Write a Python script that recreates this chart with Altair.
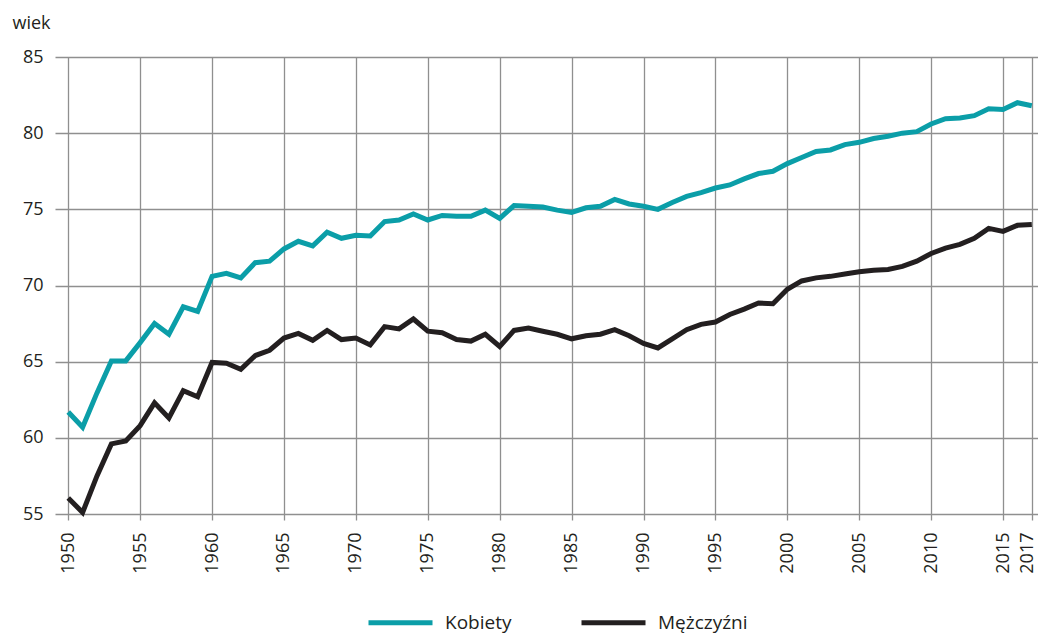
import altair as alt
import pandas as pd

years = list(range(1950, 2018))
kobiety = [
    61.7, 60.7, 62.95, 65.05, 65.05, 66.25, 67.5, 66.8, 68.6, 68.3,
    70.6, 70.8, 70.5, 71.5, 71.6, 72.4, 72.9, 72.6, 73.5, 73.1,
    73.3, 73.25, 74.2, 74.3, 74.7, 74.3, 74.6, 74.55, 74.55, 74.95,
    74.4, 75.25, 75.2, 75.15, 74.95, 74.8, 75.1, 75.2, 75.65, 75.35,
    75.2, 75.0, 75.45, 75.85, 76.1, 76.4, 76.6, 77.0, 77.35, 77.5,
    78.0, 78.4, 78.8, 78.9, 79.25, 79.4, 79.65, 79.8, 80.0, 80.1,
    80.6, 80.95, 81.0, 81.15, 81.6, 81.55, 82.0, 81.8,
]
mezczyzni = [
    56.05, 55.1, 57.5, 59.6, 59.8, 60.8, 62.3, 61.3, 63.1, 62.7,
    64.95, 64.9, 64.5, 65.4, 65.75, 66.55, 66.85, 66.4, 67.05, 66.45,
    66.55, 66.1, 67.3, 67.15, 67.8, 67.0, 66.9, 66.45, 66.35, 66.8,
    66.0, 67.05, 67.2, 67.0, 66.8, 66.5, 66.7, 66.8, 67.1, 66.7,
    66.2, 65.9, 66.5, 67.1, 67.45, 67.6, 68.1, 68.45, 68.85, 68.8,
    69.75, 70.3, 70.5, 70.6, 70.75, 70.9, 71.0, 71.05, 71.25, 71.6,
    72.1, 72.45, 72.7, 73.1, 73.75, 73.55, 73.95, 74.0,
]
series = ["Kobiety", "Mężczyźni"]
colors = ["#0B9EA8", "#231F20"]
x_ticks = [1950, 1955, 1960, 1965, 1970, 1975, 1980, 1985, 1990, 1995,
           2000, 2005, 2010, 2015, 2017]
y_ticks = [55, 60, 65, 70, 75, 80, 85]

df = pd.concat([
    pd.DataFrame({"rok": years, "wiek": kobiety, "plec": series[0], "o": 0}),
    pd.DataFrame({"rok": years, "wiek": mezczyzni, "plec": series[1], "o": 1}),
])

FONT = "Open Sans"
TXT = "#231F20"
GRID = "#8f8f8f"

chart = alt.Chart(df).mark_line(strokeWidth=5).encode(
    x=alt.X("rok:Q",
            scale=alt.Scale(domain=[1949.08, 2017.43], nice=False, zero=False),
            axis=alt.Axis(values=x_ticks, format="d", title=None,
                          labelAngle=270, labelAlign="right", labelBaseline="middle",
                          labelFont=FONT, labelFontSize=18, labelColor=TXT,
                          labelPadding=12, tickSize=6, tickColor=GRID, tickWidth=1.3,
                          labelOffset={"condition": {"test": "datum.value == 2017", "value": -4},
                                       "value": 0},
                          domain=False, grid=True, gridColor=GRID, gridWidth=1.3,
                          gridOpacity=1, labelOverlap=False)),
    y=alt.Y("wiek:Q",
            scale=alt.Scale(domain=[55, 85], nice=False, zero=False),
            axis=alt.Axis(values=y_ticks, title="wiek", titleAngle=0,
                          titleX=-43, titleY=-29, titleAlign="left",
                          titleBaseline="alphabetic", titleFont=FONT,
                          titleFontSize=18, titleFontWeight="normal", titleColor=TXT,
                          labelFont=FONT, labelFontSize=18, labelColor=TXT,
                          labelPadding=12, ticks=False, domain=False,
                          grid=True, gridColor=GRID, gridWidth=1.3, gridOpacity=1)),
    color=alt.Color("plec:N",
                    scale=alt.Scale(domain=series, range=colors),
                    legend=alt.Legend(title=None, orient="none", direction="horizontal",
                                      legendX=311, legendY=531,
                                      symbolType="stroke", symbolSize=4096,
                                      symbolStrokeWidth=5, labelFont=FONT,
                                      labelFontSize=19, labelColor=TXT,
                                      labelOffset=10, columnPadding=59, padding=0)),
    order="o:Q",
).properties(
    width=983, height=457,
    padding={"left": 47, "top": 49, "right": 0, "bottom": 120},
    autosize=alt.AutoSizeParams(type="none"),
).configure_view(stroke=None)

chart.save("out.html", embed_options={"renderer": "svg", "actions": False})
